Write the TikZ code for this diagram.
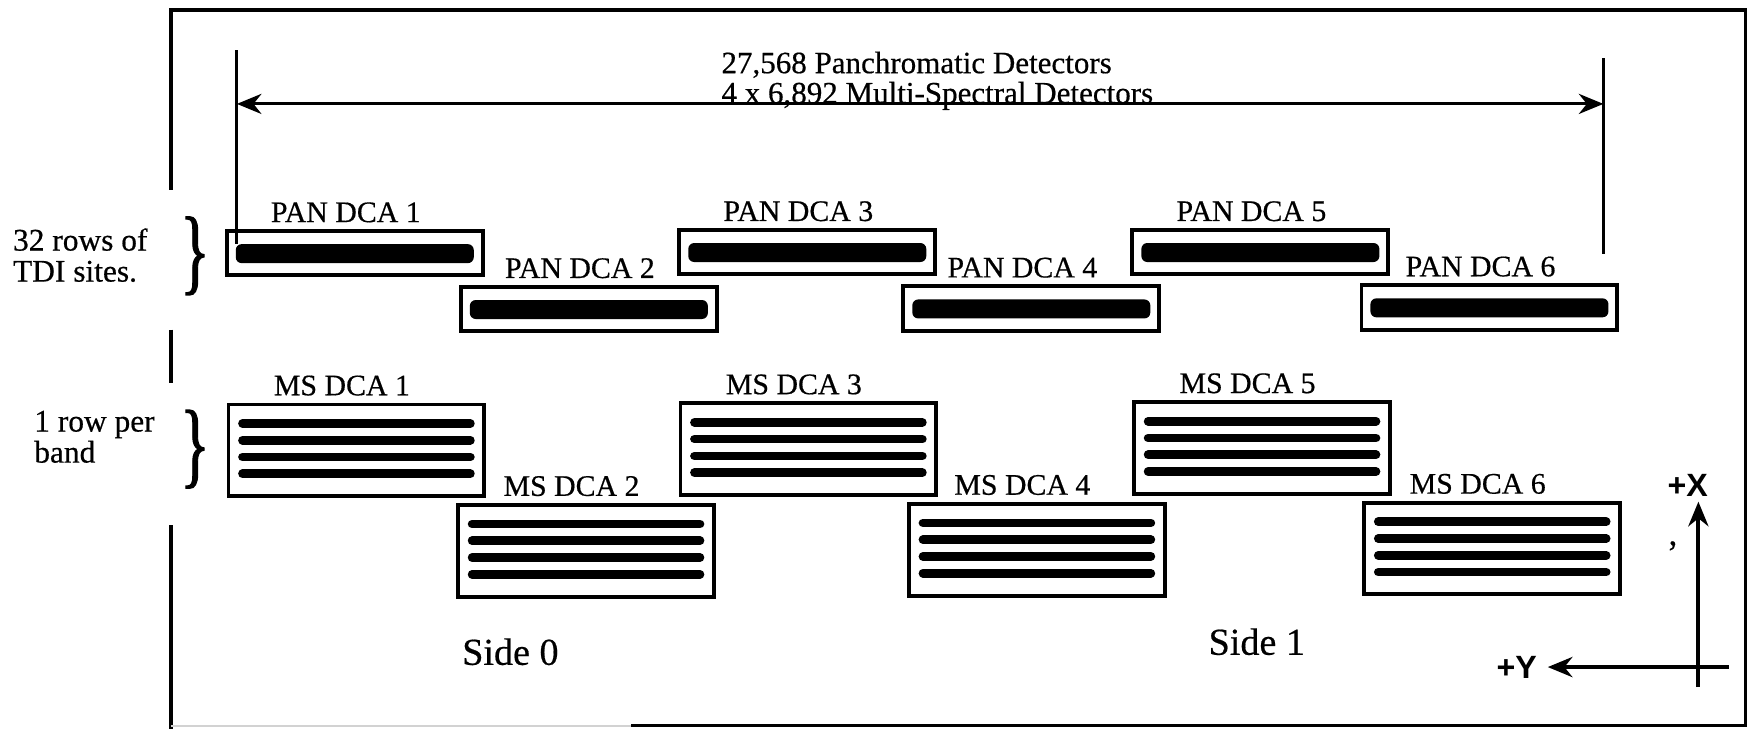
\documentclass[tikz,border=0pt]{standalone}
\usepackage{fontspec}
\setmainfont{Liberation Serif}[FakeBold=0.5]
\newfontfamily\axisfont{Liberation Sans}
\newfontfamily\bracefont{Liberation Serif}[FakeBold=1.5]
\usetikzlibrary{positioning,arrows.meta}

\begin{document}
\begin{tikzpicture}[
    >={Stealth[length=2.2mm,width=1.8mm]},
    frame/.style={line width=0.9pt},
    panbox/.style={draw, line width=1pt, inner sep=0pt, minimum width=2.29cm, minimum height=0.40cm,
        path picture={\fill[rounded corners=1.5pt] ([xshift=0.08cm,yshift=-0.12cm]path picture bounding box.north west) rectangle ([xshift=-0.08cm,yshift=0.11cm]path picture bounding box.south east);}},
    msbox/.style={draw, line width=1pt, inner sep=0pt, minimum width=2.29cm, minimum height=0.82cm,
        path picture={
            \draw[line width=2.2pt, line cap=round] ([xshift=0.125cm,yshift=0.24cm]path picture bounding box.west) -- ([xshift=-0.125cm,yshift=0.24cm]path picture bounding box.east);
            \draw[line width=2.2pt, line cap=round] ([xshift=0.125cm,yshift=0.09cm]path picture bounding box.west) -- ([xshift=-0.125cm,yshift=0.09cm]path picture bounding box.east);
            \draw[line width=2.2pt, line cap=round] ([xshift=0.125cm,yshift=-0.06cm]path picture bounding box.west) -- ([xshift=-0.125cm,yshift=-0.06cm]path picture bounding box.east);
            \draw[line width=2.2pt, line cap=round] ([xshift=0.125cm,yshift=-0.21cm]path picture bounding box.west) -- ([xshift=-0.125cm,yshift=-0.21cm]path picture bounding box.east);}},
    dcalabel/.style={inner sep=0pt, font=\fontsize{7.6}{8}\selectfont},
    header/.style={inner sep=0pt, anchor=base west, font=\fontsize{7.9}{8}\selectfont},
    note/.style={inner sep=0pt, align=left, anchor=base west, font=\fontsize{8}{7.9}\selectfont},
    brc/.style={inner sep=0pt, font=\bracefont\fontsize{24}{24}\selectfont},
    sidelabel/.style={inner sep=0pt, anchor=base west, font=\fontsize{9.7}{10}\selectfont},
    axislabel/.style={inner sep=0pt, font=\axisfont\bfseries\fontsize{8.2}{9}\selectfont},
    axisarrow/.style={line width=1pt}
]
\useasboundingbox (0,0) rectangle (15.68,6.52);

\draw[frame] (1.53,4.82) -- (1.53,6.43) -- (15.62,6.43) -- (15.62,0.025) -- (5.65,0.025);
\draw[frame] (1.53,3.57) -- (1.53,3.09);
\draw[frame] (1.53,1.82) -- (1.53,0.0);
\draw[gray!35, thin] (1.53,0.025) -- (5.65,0.025);

\node[header] (pancount) at (6.45,5.865) {27,568 Panchromatic Detectors};
\node[header] (mscount) at (6.45,5.595) {4 x 6,892 Multi-Spectral Detectors};
\coordinate (dimL) at (2.12,5.59);
\coordinate (dimR) at (14.35,5.59);
\draw[line width=0.8pt] (2.12,6.07) -- (2.12,4.34);
\draw[line width=0.8pt] (14.35,6.00) -- (14.35,4.25);
\draw[line width=0.8pt, <->] (dimL) -- (dimR);

\node[panbox] (pan1) at (3.175,4.255) {};
\node[panbox] (pan2) at (5.27,3.755) {};
\node[panbox] (pan3) at (7.225,4.265) {};
\node[panbox] (pan4) at (9.23,3.76) {};
\node[panbox] (pan5) at (11.28,4.265) {};
\node[panbox] (pan6) at (13.33,3.77) {};
\node[dcalabel, above=0.05cm of pan1, xshift=-0.08cm] (pan1lbl) {PAN DCA 1};
\node[dcalabel, above=0.05cm of pan2, xshift=-0.08cm] (pan2lbl) {PAN DCA 2};
\node[dcalabel, above=0.05cm of pan3, xshift=-0.08cm] (pan3lbl) {PAN DCA 3};
\node[dcalabel, above=0.05cm of pan4, xshift=-0.08cm] (pan4lbl) {PAN DCA 4};
\node[dcalabel, above=0.05cm of pan5, xshift=-0.08cm] (pan5lbl) {PAN DCA 5};
\node[dcalabel, above=0.05cm of pan6, xshift=-0.08cm] (pan6lbl) {PAN DCA 6};

\node[msbox] (ms1) at (3.19,2.49) {};
\node[msbox] (ms2) at (5.245,1.59) {};
\node[msbox] (ms3) at (7.235,2.50) {};
\node[msbox] (ms4) at (9.28,1.60) {};
\node[msbox] (ms5) at (11.295,2.51) {};
\node[msbox] (ms6) at (13.355,1.61) {};
\node[dcalabel, above=0.055cm of ms1, xshift=-0.13cm] (ms1lbl) {MS DCA 1};
\node[dcalabel, above=0.055cm of ms2, xshift=-0.13cm] (ms2lbl) {MS DCA 2};
\node[dcalabel, above=0.055cm of ms3, xshift=-0.13cm] (ms3lbl) {MS DCA 3};
\node[dcalabel, above=0.055cm of ms4, xshift=-0.13cm] (ms4lbl) {MS DCA 4};
\node[dcalabel, above=0.055cm of ms5, xshift=-0.13cm] (ms5lbl) {MS DCA 5};
\node[dcalabel, above=0.055cm of ms6, xshift=-0.13cm] (ms6lbl) {MS DCA 6};

\node[note] (panrows) at (0.11,4.00) {32 rows of\\TDI sites.};
\node[note] (msrows) at (0.30,2.38) {1 row per\\band};
\node[brc] (panbrace) at (1.745,4.23) {\scalebox{0.65}[1]{\}}};
\node[brc] (msbrace) at (1.745,2.50) {\scalebox{0.65}[1]{\}}};

\node[sidelabel] (side0) at (4.13,0.57) {Side 0};
\node[sidelabel] (side1) at (10.81,0.66) {Side 1};

\node[axislabel] (xlab) at (15.105,2.18) {+X};
\node[axislabel] (ylab) at (13.575,0.55) {+Y};
\node[inner sep=0pt, font=\fontsize{9}{9}\selectfont] (stray) at (14.97,1.57) {'};
\coordinate (xfoot) at (15.20,0.37);
\coordinate (xtip) at (15.20,2.03);
\coordinate (yfoot) at (15.47,0.55);
\draw[axisarrow, ->] (xfoot) -- (xtip);
\draw[axisarrow, ->] (yfoot) -- ([xshift=0.09cm]ylab.east);
\end{tikzpicture}
\end{document}
